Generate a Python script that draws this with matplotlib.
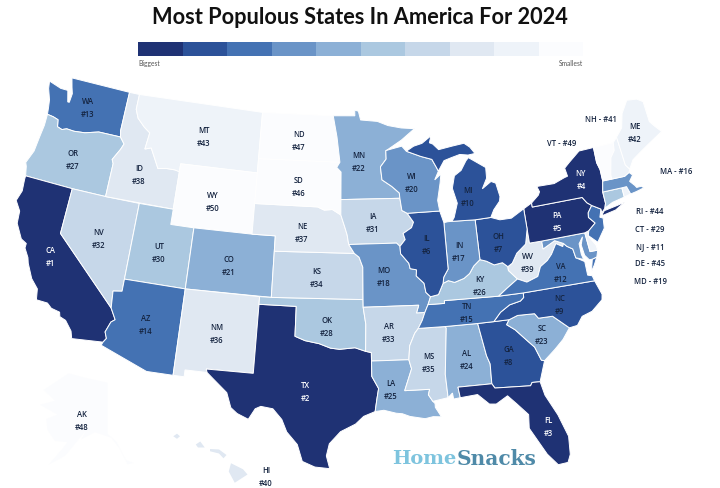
import numpy as np
import matplotlib
matplotlib.use("Agg")
import matplotlib.pyplot as plt

# population rank as printed on the map
codes = ["CA","TX","FL","NY","PA","IL","OH","GA","NC","MI","NJ","VA","WA","AZ","TN","MA","IN","MO","MD","WI",
         "CO","MN","SC","AL","LA","KY","OR","OK","CT","UT","IA","NV","AR","KS","MS","NM","NE","ID","WV","HI",
         "NH","ME","MT","RI","DE","SD","ND","AK","VT","WY"]
ranks = list(range(1, 51))

legend_colors = ["#1f3274","#2c5299","#4472b3","#6a94c7","#8cb0d6","#abc8e0","#c6d7e9","#e0e8f2","#eef3f9","#fbfcfe"]

# state outlines, lon/lat
outlines = {
"WA": [[(-124.73,48.38),(-123.5,48.13),(-122.8,48.13),(-122.5,47.4),(-122.35,47.4),(-122.3,48.0),(-122.5,48.4),(-122.76,49),(-117.03,49),(-117.04,46.42),(-116.92,46),(-118.98,46),(-119.3,45.93),(-120.2,45.73),(-121.2,45.65),(-121.9,45.68),(-122.3,45.55),(-122.76,45.65),(-122.9,46.1),(-123.4,46.2),(-123.98,46.25),(-124.07,46.7),(-124.2,47.2),(-124.6,47.9)]],
"OR": [[(-123.98,46.25),(-123.4,46.2),(-122.9,46.1),(-122.76,45.65),(-122.3,45.55),(-121.9,45.68),(-121.2,45.65),(-120.2,45.73),(-119.3,45.93),(-118.98,46),(-116.92,46),(-116.46,45.6),(-116.67,45.2),(-116.85,44.95),(-117.2,44.45),(-117.03,44.2),(-117.03,42),(-120,42),(-124.21,42),(-124.4,42.6),(-124.55,42.84),(-124.15,43.7),(-124.05,44.7),(-123.95,45.5)]],
"CA": [[(-124.21,42),(-120,42),(-120,39),(-114.63,35),(-114.14,34.3),(-114.43,34.1),(-114.72,33.4),(-114.52,33),(-114.72,32.72),(-117.12,32.53),(-117.3,33),(-117.9,33.6),(-118.4,33.75),(-118.5,34.03),(-119.2,34.15),(-119.6,34.42),(-120.5,34.45),(-120.65,35.15),(-121.3,35.7),(-121.9,36.6),(-122.05,36.95),(-122.5,37.5),(-122.5,37.8),(-123,38),(-123.7,38.9),(-123.8,39.7),(-124.35,40.3),(-124.1,41),(-124.2,41.75)]],
"NV": [[(-120,42),(-117.03,42),(-114.04,42),(-114.04,37),(-114.04,36.2),(-114.75,36.1),(-114.63,35),(-120,39)]],
"ID": [[(-117.03,49),(-116.05,49),(-116.05,48),(-115.7,47.45),(-114.95,46.95),(-114.35,46.65),(-114.5,45.55),(-113.95,45.7),(-113.45,45.05),(-113,44.45),(-112.3,44.55),(-111.5,44.55),(-111.05,44.48),(-111.05,42),(-117.03,42),(-117.03,44.2),(-117.2,44.45),(-116.85,44.95),(-116.67,45.2),(-116.46,45.6),(-116.92,46),(-117.04,46.42)]],
"MT": [[(-116.05,49),(-104.05,49),(-104.05,45),(-111.05,45),(-111.05,44.48),(-111.5,44.55),(-112.3,44.55),(-113,44.45),(-113.45,45.05),(-113.95,45.7),(-114.5,45.55),(-114.35,46.65),(-114.95,46.95),(-115.7,47.45),(-116.05,48)]],
"WY": [[(-111.05,45),(-104.05,45),(-104.05,43),(-104.05,41),(-111.05,41)]],
"UT": [[(-114.04,42),(-111.05,42),(-111.05,41),(-109.05,41),(-109.05,37),(-114.04,37)]],
"CO": [[(-109.05,41),(-104.05,41),(-102.05,41),(-102.05,40),(-102.05,37),(-109.05,37)]],
"AZ": [[(-114.04,37),(-109.05,37),(-109.05,31.33),(-111.07,31.33),(-114.81,32.5),(-114.72,32.72),(-114.52,33),(-114.72,33.4),(-114.43,34.1),(-114.14,34.3),(-114.63,35),(-114.75,36.1),(-114.04,36.2)]],
"NM": [[(-109.05,37),(-103,37),(-103,36.5),(-103.04,32),(-106.62,32),(-106.53,31.78),(-108.21,31.78),(-108.21,31.33),(-109.05,31.33)]],
"TX": [[(-103,36.5),(-100,36.5),(-100,34.56),(-99.2,34.3),(-98.1,34.13),(-97.2,33.85),(-96.5,33.78),(-95.3,33.88),(-94.48,33.64),(-94.04,33.55),(-94.04,33),(-94.04,32),(-93.55,31.2),(-93.7,30.5),(-93.85,29.7),(-94.7,29.4),(-95.3,28.9),(-96.4,28.4),(-97.2,27.6),(-97.4,26.8),(-97.15,25.96),(-98.2,26.05),(-99.1,26.4),(-99.5,27.5),(-100.3,28.3),(-100.7,29.1),(-101.4,29.77),(-102.3,29.88),(-102.7,29.7),(-103.15,28.98),(-104,29.3),(-104.5,29.65),(-104.9,30.6),(-106,31.4),(-106.53,31.78),(-106.62,32),(-103.04,32)]],
"OK": [[(-103,37),(-102.05,37),(-94.62,37),(-94.62,36.5),(-94.43,35.4),(-94.48,33.64),(-95.3,33.88),(-96.5,33.78),(-97.2,33.85),(-98.1,34.13),(-99.2,34.3),(-100,34.56),(-100,36.5),(-103,36.5)]],
"KS": [[(-102.05,40),(-95.3,40),(-94.9,39.75),(-94.6,39.1),(-94.62,37),(-102.05,37)]],
"NE": [[(-104.05,43),(-98.5,43),(-97.9,42.8),(-97.2,42.85),(-96.45,42.5),(-96.1,41.7),(-95.9,41.2),(-95.77,40.58),(-95.3,40),(-102.05,40),(-102.05,41),(-104.05,41)]],
"SD": [[(-104.05,45.94),(-96.56,45.94),(-96.85,45.6),(-96.45,45.3),(-96.45,43.5),(-96.45,42.5),(-97.2,42.85),(-97.9,42.8),(-98.5,43),(-104.05,43),(-104.05,45)]],
"ND": [[(-104.05,49),(-97.23,49),(-96.85,47.6),(-96.56,45.94),(-104.05,45.94)]],
"MN": [[(-97.23,49),(-95.15,49),(-95.15,49.38),(-94.8,49.3),(-94.6,48.72),(-93,48.6),(-92,48.3),(-90.75,48.1),(-89.5,48),(-90.8,47.3),(-92.05,46.75),(-92.3,46.65),(-92.3,46.1),(-92.85,45.6),(-92.75,44.75),(-91.9,44.3),(-91.25,43.85),(-91.22,43.5),(-96.45,43.5),(-96.45,45.3),(-96.85,45.6),(-96.56,45.94),(-96.85,47.6)]],
"IA": [[(-96.45,43.5),(-91.22,43.5),(-91.1,42.7),(-90.65,42.5),(-90.15,41.9),(-90.35,41.55),(-91.1,41.2),(-90.95,40.8),(-91.42,40.38),(-91.7,40.6),(-95.77,40.58),(-95.9,41.2),(-96.1,41.7),(-96.45,42.5)]],
"MO": [[(-95.77,40.58),(-91.7,40.6),(-91.42,40.38),(-91.4,39.9),(-90.75,39.25),(-90.67,38.9),(-90.15,38.8),(-90.2,38.4),(-89.6,37.9),(-89.5,37.3),(-89.15,37),(-89.4,36.5),(-89.7,36),(-90.37,36),(-90.15,36.5),(-94.62,36.5),(-94.62,37),(-94.6,39.1),(-94.9,39.75),(-95.3,40)]],
"AR": [[(-94.62,36.5),(-90.15,36.5),(-90.37,36),(-89.7,36),(-89.95,35.5),(-90.3,35),(-90.6,34.7),(-91.05,33.9),(-91.17,33),(-94.04,33),(-94.04,33.55),(-94.48,33.64),(-94.43,35.4)]],
"LA": [[(-94.04,33),(-91.17,33),(-91,32.4),(-91.6,31),(-89.73,31),(-89.85,30.65),(-89.55,30.2),(-89.4,30.05),(-89.4,29.8),(-89,29.15),(-89.6,29.2),(-90.2,29.1),(-91.3,29.3),(-91.85,29.5),(-92.3,29.55),(-93.2,29.77),(-93.85,29.7),(-93.7,30.5),(-93.55,31.2),(-94.04,32)]],
"MS": [[(-91.17,33),(-91.05,33.9),(-90.6,34.7),(-90.3,35),(-88.2,35),(-88.1,34.9),(-88.47,31.9),(-88.4,30.37),(-89.55,30.2),(-89.85,30.65),(-89.73,31),(-91.6,31),(-91,32.4)]],
"AL": [[(-88.2,35),(-85.6,35),(-85.2,32.85),(-85,32.3),(-85.05,31),(-87.6,31),(-87.5,30.3),(-88,30.25),(-88.05,30.65),(-88.4,30.37),(-88.47,31.9),(-88.1,34.9)]],
"GA": [[(-85.6,35),(-84.32,35),(-83.1,35),(-83.35,34.7),(-82.75,34.3),(-81.95,33.5),(-81.45,33),(-81.1,32.1),(-80.87,32.03),(-81.45,30.72),(-82.05,30.75),(-82.2,30.55),(-84.86,30.7),(-85.05,31),(-85,32.3),(-85.2,32.85)]],
"FL": [[(-87.6,31),(-85.05,31),(-84.86,30.7),(-82.2,30.55),(-82.05,30.75),(-81.45,30.72),(-81.25,29.8),(-80.55,28.4),(-80.05,26.9),(-80.15,25.7),(-80.4,25.2),(-81.1,25.15),(-81.75,25.95),(-82.15,26.7),(-82.75,27.8),(-82.65,28.7),(-83.4,29.5),(-84,30.1),(-84.9,29.65),(-85.4,29.7),(-86.2,30.4),(-87.5,30.3)]],
"SC": [[(-83.35,34.7),(-83.1,35),(-82.4,35.2),(-81.05,35.15),(-80.8,34.82),(-79.68,34.8),(-78.55,33.87),(-79.2,33.2),(-79.95,32.65),(-80.87,32.03),(-81.1,32.1),(-81.45,33),(-81.95,33.5),(-82.75,34.3)]],
"NC": [[(-84.32,35),(-83.1,35),(-82.4,35.2),(-81.05,35.15),(-80.8,34.82),(-79.68,34.8),(-78.55,33.87),(-77.9,33.93),(-77.4,34.45),(-76.55,34.65),(-75.6,35.25),(-75.5,35.6),(-75.85,36.55),(-81.68,36.59),(-81.7,36.3),(-82,36.1),(-82.9,35.95),(-83.7,35.55)]],
"TN": [[(-90.3,35),(-88.2,35),(-85.6,35),(-84.32,35),(-83.7,35.55),(-82.9,35.95),(-82,36.1),(-81.7,36.3),(-81.68,36.59),(-83.68,36.6),(-88.07,36.68),(-88.07,36.5),(-89.4,36.5),(-89.7,36),(-89.95,35.5)]],
"KY": [[(-89.4,36.5),(-88.07,36.5),(-88.07,36.68),(-83.68,36.6),(-82.9,37.05),(-81.97,37.54),(-82.6,38.17),(-82.6,38.42),(-83,38.72),(-83.7,38.65),(-84.3,38.95),(-84.82,39.1),(-85.4,38.73),(-85.8,38.28),(-86.3,38),(-87.1,37.8),(-87.6,37.95),(-88.05,37.8),(-88.5,37.1),(-89.15,37)]],
"WV": [[(-82.6,38.17),(-81.97,37.54),(-81.25,37.25),(-80.3,37.5),(-79.95,38.1),(-79.3,38.42),(-78.87,38.77),(-78.35,39.4),(-77.83,39.13),(-77.72,39.32),(-78.4,39.6),(-79.48,39.2),(-79.48,39.72),(-80.52,39.72),(-80.52,40.64),(-80.85,39.7),(-81.7,39.2),(-82.2,38.6),(-82.6,38.42)]],
"VA": [[(-83.68,36.6),(-81.68,36.59),(-75.85,36.55),(-75.95,36.9),(-76.3,37),(-76.3,37.9),(-76.95,38.25),(-77.05,38.85),(-77.5,39.1),(-77.72,39.32),(-77.83,39.13),(-78.35,39.4),(-78.87,38.77),(-79.3,38.42),(-79.95,38.1),(-80.3,37.5),(-81.25,37.25),(-81.97,37.54),(-82.9,37.05)],
       [(-75.95,37.15),(-75.6,37.55),(-75.25,38.03),(-75.65,37.95)]],
"MD": [[(-79.48,39.72),(-75.79,39.72),(-75.7,38.46),(-75.05,38.45),(-75.25,38.03),(-75.65,37.95),(-75.9,37.95),(-76.2,38.3),(-76.3,39),(-76.05,39.5),(-76.45,39.1),(-76.45,38.4),(-76.35,38.05),(-76.95,38.25),(-77.05,38.85),(-77.5,39.1),(-77.72,39.32),(-78.4,39.6),(-79.48,39.2)]],
"DE": [[(-75.79,39.72),(-75.42,39.8),(-75.55,39.45),(-75.1,38.8),(-75.05,38.45),(-75.7,38.46)]],
"PA": [[(-80.52,41.98),(-79.76,42.27),(-79.76,42),(-75.35,42),(-75.05,41.6),(-74.7,41.36),(-75.13,40.95),(-75.2,40.65),(-74.75,40.2),(-75.42,39.8),(-75.79,39.72),(-79.48,39.72),(-80.52,39.72),(-80.52,40.64)]],
"NJ": [[(-74.7,41.36),(-74,41),(-74.25,40.5),(-74,40.4),(-74.1,39.75),(-74.9,38.95),(-75.55,39.5),(-75.42,39.8),(-74.75,40.2),(-75.2,40.65),(-75.13,40.95)]],
"NY": [[(-79.76,42.27),(-79.05,42.7),(-78.9,42.9),(-79.05,43.27),(-77.5,43.25),(-76.5,43.5),(-76.2,43.55),(-76.3,44.1),(-75.8,44.4),(-74.7,45),(-73.35,45.01),(-73.4,44),(-73.25,43.5),(-73.27,42.75),(-73.5,42.05),(-73.5,41.3),(-73.65,41),(-74,40.75),(-74,41),(-74.7,41.36),(-75.05,41.6),(-75.35,42),(-79.76,42)],
       [(-74.03,40.62),(-73.75,40.85),(-72.6,40.98),(-71.9,41.07),(-72.8,40.72),(-73.9,40.58)]],
"CT": [[(-73.5,42.05),(-71.8,42.02),(-71.8,41.4),(-72.9,41.25),(-73.65,41),(-73.5,41.3)]],
"RI": [[(-71.8,42.02),(-71.38,42.02),(-71.2,41.5),(-71.8,41.4)]],
"MA": [[(-73.5,42.05),(-73.27,42.75),(-72.46,42.73),(-71.3,42.7),(-70.85,42.87),(-70.6,42.65),(-71,42.3),(-70.65,41.95),(-70.55,41.8),(-70,41.8),(-70.2,42.07),(-70,41.65),(-70.65,41.55),(-71.12,41.5),(-71.2,41.5),(-71.38,42.02),(-71.8,42.02)]],
"VT": [[(-73.35,45.01),(-71.5,45.01),(-71.6,44.5),(-72.05,44.1),(-72.45,43),(-72.46,42.73),(-73.27,42.75),(-73.25,43.5),(-73.4,44)]],
"NH": [[(-71.5,45.01),(-71.08,45.3),(-70.98,43.4),(-70.7,43.07),(-70.85,42.87),(-71.3,42.7),(-72.46,42.73),(-72.45,43),(-72.05,44.1),(-71.6,44.5)]],
"ME": [[(-71.08,45.3),(-70.4,45.8),(-70,46.7),(-69.23,47.46),(-68.3,47.35),(-67.8,47.07),(-67.8,45.7),(-67.45,45.3),(-67,44.85),(-68.5,44.3),(-69.5,43.9),(-70.2,43.6),(-70.7,43.07),(-70.98,43.4)]],
"OH": [[(-84.82,41.7),(-83.45,41.73),(-82.7,41.5),(-81.7,41.5),(-80.52,41.98),(-80.52,40.64),(-80.85,39.7),(-81.7,39.2),(-82.2,38.6),(-82.6,38.42),(-83,38.72),(-83.7,38.65),(-84.3,38.95),(-84.82,39.1)]],
"IN": [[(-87.53,41.72),(-87.2,41.76),(-86.82,41.76),(-84.82,41.7),(-84.82,39.1),(-85.4,38.73),(-85.8,38.28),(-86.3,38),(-87.1,37.8),(-87.6,37.95),(-88.05,37.8),(-87.95,38.2),(-87.53,38.7),(-87.53,39.35)]],
"IL": [[(-90.65,42.5),(-87.8,42.5),(-87.53,41.72),(-87.53,39.35),(-87.53,38.7),(-87.95,38.2),(-88.05,37.8),(-88.5,37.1),(-89.15,37),(-89.5,37.3),(-89.6,37.9),(-90.2,38.4),(-90.15,38.8),(-90.67,38.9),(-90.75,39.25),(-91.4,39.9),(-91.42,40.38),(-90.95,40.8),(-91.1,41.2),(-90.35,41.55),(-90.15,41.9)]],
"WI": [[(-92.05,46.7),(-90.8,46.9),(-90.4,46.55),(-89.1,46.15),(-88.1,45.9),(-87.75,45.35),(-87.6,45.1),(-88,44.55),(-87.4,44.9),(-87.55,44.3),(-87.9,43.2),(-87.8,42.5),(-90.65,42.5),(-91.1,42.7),(-91.22,43.5),(-91.25,43.85),(-91.9,44.3),(-92.75,44.75),(-92.85,45.6),(-92.3,46.1),(-92.3,46.65)]],
"MI": [[(-90.4,46.55),(-89.1,46.15),(-88.1,45.9),(-87.75,45.35),(-87.6,45.1),(-87,45.75),(-86.3,45.9),(-85.5,46.05),(-84.75,45.95),(-84.1,46),(-84.5,46.45),(-85,46.75),(-86.1,46.65),(-87.4,46.5),(-87.9,46.9),(-88.2,47),(-88,47.45),(-88.9,47),(-89.7,46.85)],
       [(-86.82,41.76),(-84.82,41.7),(-83.45,41.73),(-83.1,42.2),(-82.5,42.7),(-82.4,43),(-82.6,43.9),(-83,44.05),(-83.85,43.65),(-83.35,44.3),(-83.3,45),(-84.75,45.78),(-85,45.6),(-85.55,45),(-86.2,44.7),(-86.5,43.9),(-86.2,42.9),(-86.6,42)]],
}
ak_outline = [(-141,69.6),(-141,60.3),(-137.5,58.9),(-133.5,55.5),(-130.5,55),(-133,54.8),(-136,57.5),(-139.5,59.6),(-146,60.6),(-151.5,59.3),(-149.5,61),(-154,58.5),(-158,56.3),(-164.5,54.7),(-159,57.6),(-157,58.8),(-162,59),(-165,61),(-165.5,63),(-161,63.8),(-168,65.6),(-162,66.3),(-166.5,68.3),(-156.5,71.3),(-150,70.5)]
hi_islands = [[(-159.75,22.05),(-159.5,22.22),(-159.3,22.05),(-159.5,21.88)],
              [(-158.25,21.5),(-157.95,21.7),(-157.65,21.3),(-158.1,21.3)],
              [(-157.3,21.2),(-156.7,21.17),(-156.2,20.8),(-156.4,20.58),(-156.7,20.9),(-157.3,21.05)],
              [(-155.9,20.25),(-155.1,19.85),(-154.8,19.5),(-155.65,18.95),(-156.05,19.7)]]

# label anchors, picture pixels
label_xy = {"WA":(88,108),"OR":(73,160),"CA":(50,257),"NV":(99,239),"ID":(139,175),"MT":(204,137),"WY":(213,202),
            "UT":(159,253),"CO":(229,266),"ND":(299,141),"SD":(299,187),"NE":(302,233),"KS":(317,278),"NM":(217,334),
            "AZ":(146,325),"OK":(327,327),"TX":(305,392),"AK":(82,421),"HI":(266,477),"MN":(359,162),"IA":(373,223),
            "MO":(384,277),"WI":(412,183),"IL":(426,245),"MI":(468,197),"IN":(459,252),"OH":(498,243),"KY":(480,286),
            "WV":(528,263),"VA":(561,273),"PA":(557,222),"NY":(581,180),"ME":(635,133),"AR":(389,333),"TN":(467,313),
            "NC":(560,305),"SC":(542,335),"MS":(429,363),"AL":(467,360),"GA":(509,356),"LA":(391,390),"FL":(548,427)}
side_xy = {"NH":(601,119),"VT":(562,143),"MA":(676,171),"RI":(650,212),"CT":(650,229),"NJ":(650,247),"DE":(650,264),"MD":(650,282)}


def albers(pts):
    pts = np.radians(np.array(pts, dtype=float))
    p1, p2, p0 = np.radians([29.5, 45.5, 37.5])
    n = (np.sin(p1) + np.sin(p2)) / 2
    c = np.cos(p1) ** 2 + 2 * n * np.sin(p1)
    rho = np.sqrt(c - 2 * n * np.sin(pts[:, 1])) / n
    rho0 = np.sqrt(c - 2 * n * np.sin(p0)) / n
    th = n * (pts[:, 0] + np.radians(96))
    return np.column_stack([346 + 895 * rho * np.sin(th), 293 - 875 * (rho0 - rho * np.cos(th))])


def ak_inset(pts):
    pts = np.array(pts)
    return np.column_stack([75 + (pts[:, 0] + 154) * 2.5, 420 - (pts[:, 1] - 63) * 5.5])


def hi_inset(pts):
    pts = np.array(pts)
    return np.column_stack([237 + (pts[:, 0] + 155.5) * 15, 474 - (pts[:, 1] - 19.6) * 15])


rank_of = dict(zip(codes, ranks))


def color_of(code):
    return legend_colors[(rank_of[code] - 1) // 5]


fig = plt.figure(figsize=(7.2, 4.89), dpi=100)
ax = fig.add_axes([0, 0, 1, 1])
ax.set_xlim(0, 720)
ax.set_ylim(489, 0)
ax.axis("off")

ax.text(360, 17, "Most Populous States In America For 2024", ha="center", va="center",
        fontsize=15.7, fontweight="bold", family="Lato", color="#111111")

# legend strip
seg = (583 - 138) / len(legend_colors)
ax.bar([138 + seg * i for i in range(len(legend_colors))], [14] * len(legend_colors), width=seg,
       bottom=43, align="edge", color=legend_colors, linewidth=0)
ax.text(138, 63.5, "Biggest", ha="left", va="center", fontsize=4.8, color="#555555", family="Lato")
ax.text(583, 63.5, "Smallest", ha="right", va="center", fontsize=4.8, color="#555555", family="Lato")

for code, rings in outlines.items():
    for ring in rings:
        ax.fill(*albers(ring).T, facecolor=color_of(code), edgecolor="white", linewidth=0.7, zorder=2)

ax.fill(*ak_inset(ak_outline).T, facecolor=color_of("AK"), edgecolor="none", zorder=2)
for ring in hi_islands:
    ax.fill(*hi_inset(ring).T, facecolor=color_of("HI"), edgecolor="none", zorder=2)

for code, (x, y) in label_xy.items():
    c = "white" if rank_of[code] <= 5 else "#14233f"
    ax.text(x, y, f"{code}\n#{rank_of[code]}", ha="center", va="center", fontsize=5.5, color=c,
            fontweight="semibold", linespacing=1.45, zorder=3, family="Open Sans")
for code, (x, y) in side_xy.items():
    ax.text(x, y, f"{code} - #{rank_of[code]}", ha="center", va="center", fontsize=5.5, color="#14233f",
            fontweight="semibold", zorder=3, family="Open Sans")

# logo
ax.text(392, 459, "Home", ha="left", va="center", fontsize=14, fontweight="bold", family="DejaVu Serif", color="#7ec4de", zorder=3)
ax.text(457, 459, "Snacks", ha="left", va="center", fontsize=14.5, fontweight="bold", family="DejaVu Serif", color="#4f8aa8", zorder=3)

fig.savefig("out.png", dpi=100)
